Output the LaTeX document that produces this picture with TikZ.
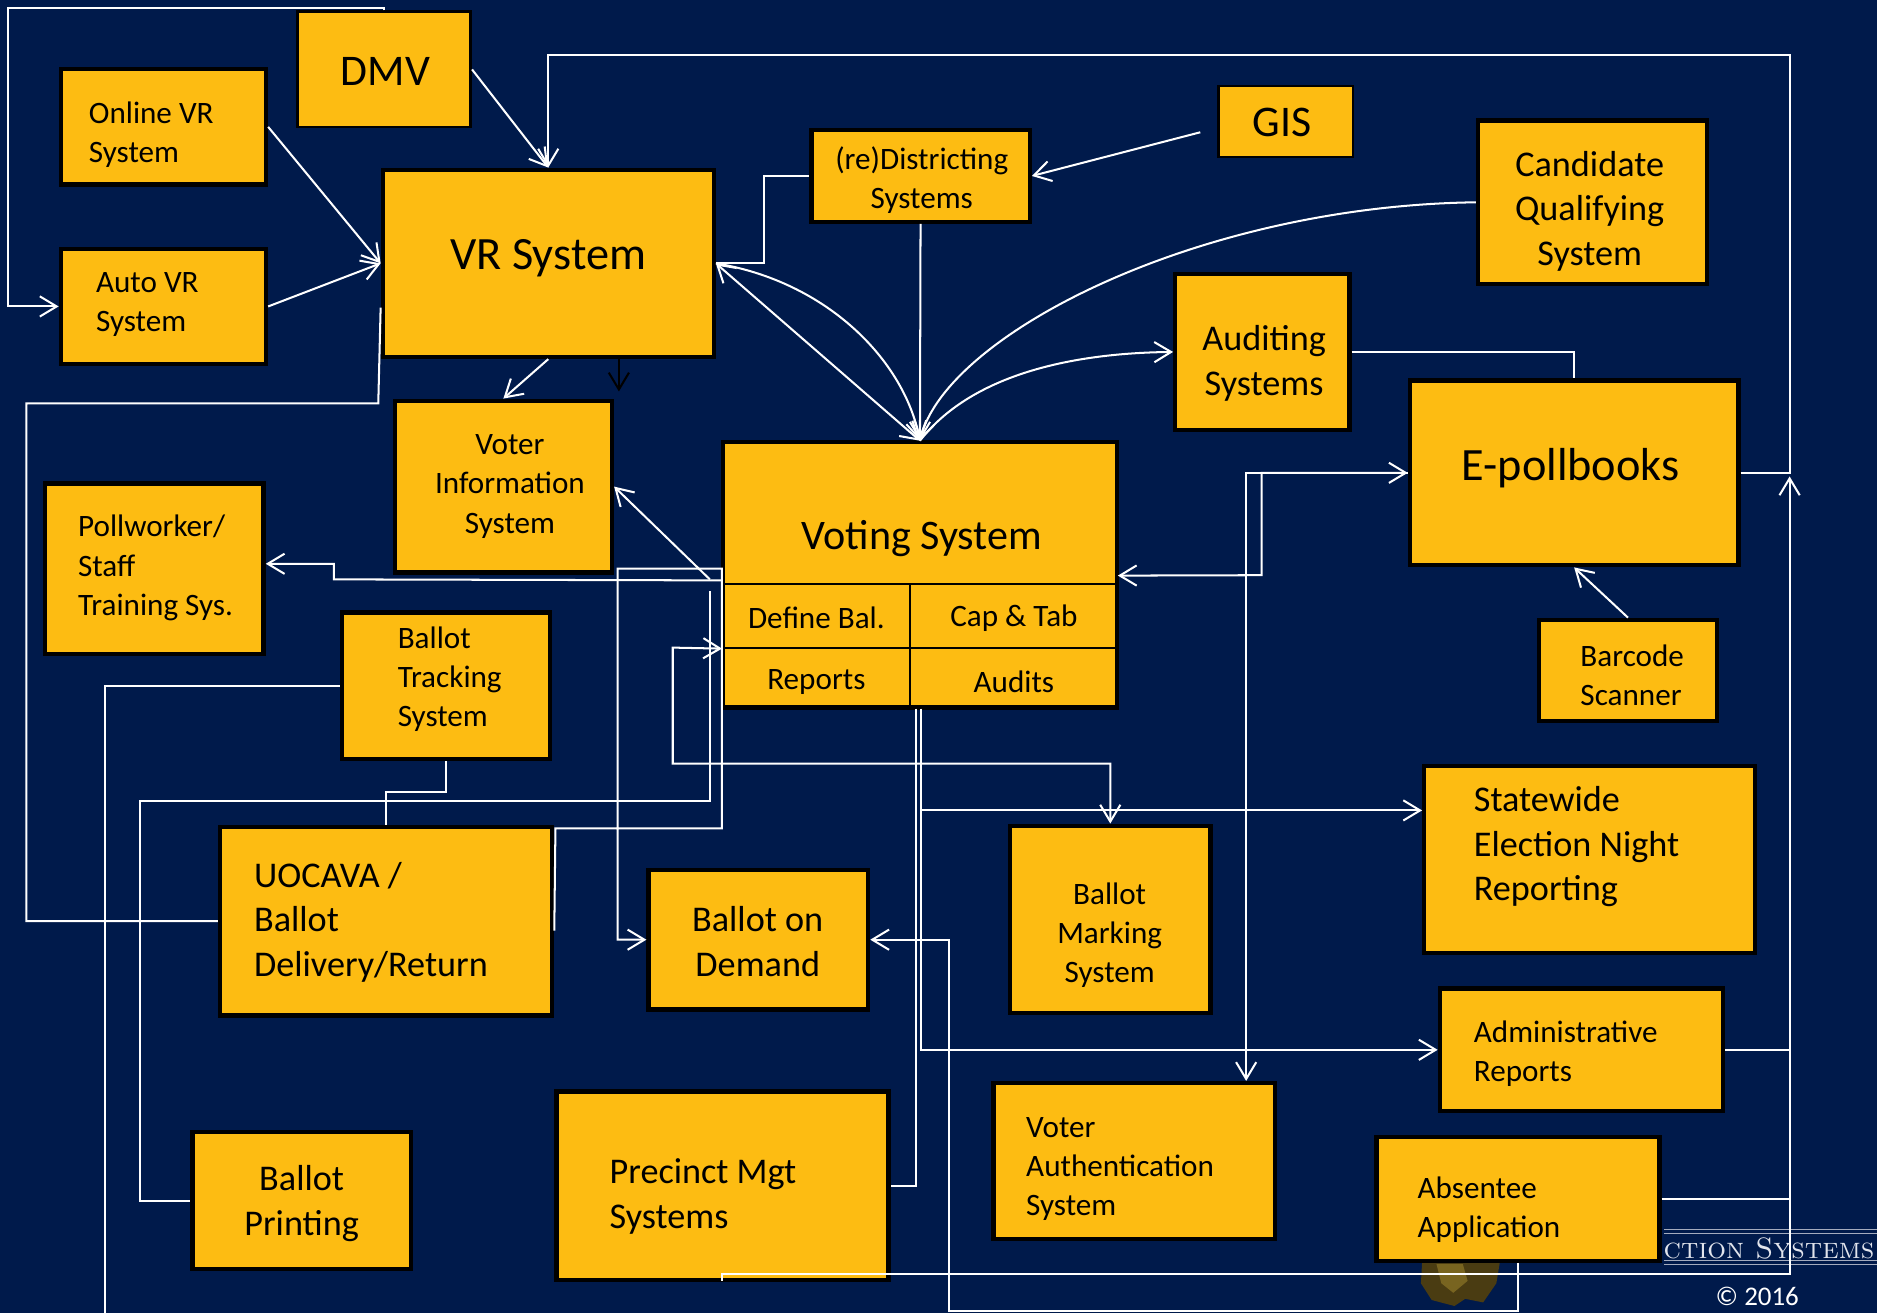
\documentclass[tikz,border=0pt]{standalone}
\usepackage{fontspec}
\newfontfamily\cf{Carlito}
\usetikzlibrary{arrows.meta,calc}
\definecolor{bgc}{RGB}{0,26,75}
\definecolor{boxy}{RGB}{253,188,18}
\definecolor{logoA}{RGB}{74,60,18}
\definecolor{logoB}{RGB}{120,100,32}
\definecolor{rulec}{RGB}{165,172,190}
\definecolor{footc}{RGB}{225,228,236}
\newcommand\mybox[6][]{\node[box,#1,minimum width={(#4-#2-3.6)*0.025cm},minimum height={(#5-#3-3.6)*0.025cm}] (#6) at ({(#2+#4)/2},{(#3+#5)/2}) {};}
\tikzset{
  box/.style={draw=black,line width=2.6pt,fill=boxy,inner sep=0pt},
  cell/.style={draw=black,line width=1.2pt,fill=boxy,inner sep=0pt},
  tS/.style={font=\cf\fontsize{18.5}{23.2}\selectfont,inner sep=0pt,text=black,yshift=-0.06cm},
  tM/.style={font=\cf\fontsize{21.5}{26.5}\selectfont,inner sep=0pt,text=black,yshift=-0.06cm},
  tV/.style={font=\cf\fontsize{25}{30}\selectfont,inner sep=0pt,text=black},
  tG/.style={font=\cf\fontsize{26}{31}\selectfont,inner sep=0pt,text=black},
  tL/.style={font=\cf\fontsize{27.5}{33}\selectfont,inner sep=0pt,text=black,yshift=-0.05cm},
  wl/.style={draw=white,line width=1.2pt},
}
\begin{document}
\begin{tikzpicture}[x=0.025cm,y=-0.025cm,>={Straight Barb[length=10pt,width=12pt]}]
\useasboundingbox (0,0) rectangle (1568,1097);
\fill[bgc] (0,0) rectangle (1568,1097);

% footer logo remains
\draw[rulec,line width=0.7pt] (1390,1027) -- (1568,1027) (1390,1030.5) -- (1568,1030.5)
  (1390,1053) -- (1568,1053) (1390,1056.5) -- (1568,1056.5);
\node[font=\fontsize{17.5}{20}\selectfont,text=footc,anchor=east,inner sep=0pt] (foot) at (1566,1043) {\textsc{ction Systems}};
\node[font=\cf\fontsize{16}{19}\selectfont,text=white,inner sep=0pt] (copy) at (1468,1083) {© 2016};
\fill[logoA] (1188,1054) -- (1253,1054) -- (1250,1072) -- (1239,1088) -- (1224,1085) -- (1215,1091) -- (1196,1086) -- (1187,1072) -- cycle;
\fill[logoB] (1200,1056) -- (1222,1056) -- (1226,1070) -- (1214,1080) -- (1204,1072) -- cycle;

% boxes
\mybox[line width=1.6pt]{247}{8}{395}{108}{dmv}
\mybox{49}{56}{224}{156}{ovr}
\mybox{49}{206}{224}{306}{avr}
\mybox{318}{140}{598}{300}{vr}
\mybox{676}{107}{862}{187}{rd}
\mybox[line width=1.6pt]{1016}{70}{1132}{133}{gis}
\mybox{1233}{99}{1428}{239}{cq}
\mybox{980}{227}{1129}{361}{aud}
\mybox{1176}{316}{1454}{474}{epb}
\mybox{1284}{516}{1436}{604}{bcs}
\mybox{328}{333}{513}{480}{vi}
\mybox{36}{402}{222}{548}{pw}
\mybox{284}{510}{461}{636}{bt}
\mybox{182}{689}{463}{850}{uoc}
\mybox{540}{725}{727}{845}{bod}
\mybox{842}{688}{1013}{848}{bm}
\mybox{1188}{638}{1468}{798}{sw}
\mybox{1201}{824}{1441}{930}{adm}
\mybox{828}{903}{1067}{1037}{va}
\mybox{1148}{948}{1388}{1055}{ab}
\mybox{159}{944}{345}{1062}{bp}
\mybox{463}{910}{744}{1071}{pm}

% voting system
\node[cell,minimum width={(933-604)*0.025cm},minimum height={(488-369)*0.025cm}] (vs) at (768.5,428.5) {};
\node[cell,minimum width={(760-604)*0.025cm},minimum height={(541-488)*0.025cm}] (db) at (682,514.5) {};
\node[cell,minimum width={(933-760)*0.025cm},minimum height={(541-488)*0.025cm}] (ct) at (846.5,514.5) {};
\node[cell,minimum width={(760-604)*0.025cm},minimum height={(591-541)*0.025cm}] (rp) at (682,566) {};
\node[cell,minimum width={(933-760)*0.025cm},minimum height={(591-541)*0.025cm}] (au) at (846.5,566) {};
\draw[line width=2.6pt] (604,369) rectangle (933,591);

% texts
\node[tG] (t-dmv) at (322,60) {DMV};
\node[tS,anchor=west,align=left] (t-ovr) at (74,110) {Online VR\\System};
\node[tS,anchor=west,align=left] (t-avr) at (80,252) {Auto VR\\System};
\node[tL] (t-vr) at (458,214) {VR System};
\node[tS,align=center] (t-rd) at (770,148) {(re)Districting\\Systems};
\node[tG] (t-gis) at (1071,102) {GIS};
\node[tM,align=center] (t-cq) at (1328,174) {Candidate\\Qualifying\\System};
\node[tM,align=center] (t-aud) at (1056,301) {Auditing\\Systems};
\node[tL] (t-epb) at (1312,389) {E-pollbooks};
\node[tS,anchor=west,align=left] (t-bcs) at (1320,562) {Barcode\\Scanner};
\node[tS,align=center] (t-vi) at (426,404) {Voter\\Information\\System};
\node[tS,anchor=west,align=left] (t-pw) at (65,472) {Pollworker/\\Staff\\Training Sys.};
\node[tS,anchor=west,align=left] (t-bt) at (332,565) {Ballot\\Tracking\\System};
\node[tM,anchor=west,align=left] (t-uoc) at (212,768) {UOCAVA /\\Ballot\\Delivery/Return};
\node[tM,align=center] (t-bod) at (633,784) {Ballot on\\Demand};
\node[tS,align=center] (t-bm) at (927,779) {Ballot\\Marking\\System};
\node[tM,anchor=west,align=left] (t-sw) at (1231,705) {Statewide\\Election Night\\Reporting};
\node[tS,anchor=west,align=left] (t-adm) at (1231,878) {Administrative\\Reports};
\node[tS,anchor=west,align=left] (t-va) at (857,974) {Voter\\Authentication\\System};
\node[tS,anchor=west,align=left] (t-ab) at (1184,1008) {Absentee\\Application};
\node[tM,align=center] (t-bp) at (252,1003) {Ballot\\Printing};
\node[tM,anchor=west,align=left] (t-pm) at (509,997) {Precinct Mgt\\Systems};
\node[tV] (t-vs) at (770,450) {Voting System};
\node[tS] (t-db) at (682,514) {Define Bal.};
\node[tS] (t-ct) at (847,514) {Cap \& Tab};
\node[tS] (t-rp) at (682,567) {Reports};
\node[tS] (t-au) at (847,567) {Audits};

% junction coordinates
\coordinate (j1) at (593,484);
\coordinate (j2) at (593,494);
\coordinate (blk) at (517,327);
\coordinate (btb) at (88,1097);
\coordinate (a1) at (769,592);
\coordinate (a2) at (769,677);
\coordinate (a3) at (765,592);
\coordinate (pmb) at (603,1070);
\coordinate (epj) at (1495,398);

% connectors
\draw[wl,->] (dmv.north) |- (7,7) |- (avr.west);
\draw[wl,->] (dmv.east) -- (vr.north);
\draw[wl,->] (epb.east) -| (1495,46) -| (vr.north);
\draw[wl] (ab.east) -- (1495,1001.5);
\draw[wl] (adm.east) -- (1495,877);
\draw[wl,->] (pmb) |- (1495,1064) -- (epj);
\draw[wl,->] (ovr.east) -- (vr.west);
\draw[wl,->] (avr.east) -- (vr.west);
\draw[wl,->] ([shift={(-14,9)}]gis.west) -- (rd.east);
\draw[wl] (rd.west) -- (638,147) |- (vr.east);
\draw[wl,<->] (vr.east) -- (vs.north);
\draw[wl,->] (vr.east) .. controls (690,235) and (755,300) .. (vs.north);
\draw[wl,->] (rd.south) -- (vs.north);
\draw[wl,->] (cq.west) .. controls (1000,172) and (790,280) .. (vs.north);
\draw[wl,->] (vs.north) .. controls (810,315) and (890,295) .. (aud.west);
\draw[wl] (aud.east) -| (epb.north);
\draw[wl,->] (bcs.north) -- (epb.south);
\draw[wl,->] (vr.south) -- (vi.north);
\draw[draw=black,line width=1.2pt,->] (vr.south -| blk) -- (blk);
\draw[wl,->] ([shift={(0,-4)}]vs.south west) -- (279,484) -- (279,471) -- ([shift={(0,-4)}]pw.east);
\draw[wl,->] (j1) -- (vi.east);
\draw[wl] (j2) |- (117,669) |- (bp.west);
\draw[wl,->] ([shift={(0,8)}]uoc.east) -- (464,692) -- (603,692) -- (603,475) -- (516,475) |- (bod.west);
\draw[wl] (bt.south) -- (372.5,662) -| (uoc.north);
\draw[wl] (bt.west) -| (btb);
\draw[wl] ([shift={(0,37)}]vr.west) -- (316,337) -- (22,337) |- (uoc.west);
\draw[wl,<->] (db.south west) -- (562,541) |- (bm.north |- 0,638) -- (bm.north);
\draw[wl,->] (a1) |- (adm.west);
\draw[wl,->] (a2) -- ([shift={(0,-41)}]sw.west);
\draw[wl] (a3) |- (pm.east);
\draw[wl,->] (ab.south) |- (793,1095) |- (bod.east);
\draw[wl,<->] ([shift={(0,-8)}]vs.south east) -- (1054,480.5) |- (epb.west);
\draw[wl,->] (epb.west) -| ([shift={(93.5,0)}]va.north);
\end{tikzpicture}
\end{document}
